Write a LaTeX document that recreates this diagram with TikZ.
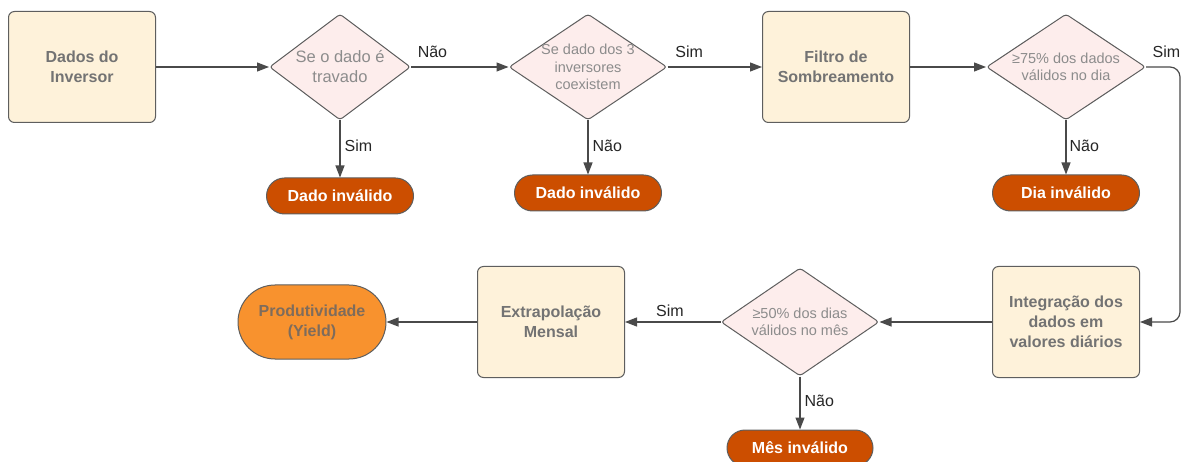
\documentclass[tikz,border=0pt]{standalone}
\usepackage{fontspec}
\setmainfont{Liberation Sans}
\usetikzlibrary{shapes.geometric,arrows.meta}
\definecolor{cream}{HTML}{FEF2DA}
\definecolor{pinkf}{HTML}{FDEDEC}
\definecolor{strokec}{HTML}{5E5E5E}
\definecolor{boxtext}{HTML}{737373}
\definecolor{dtext}{HTML}{8C8C8C}
\definecolor{invalid}{HTML}{CC4E00}
\definecolor{yieldc}{HTML}{F8922E}
\definecolor{prodtext}{HTML}{7E6C5C}
\definecolor{linec}{HTML}{4A4A4A}
\begin{document}
\begin{tikzpicture}[x=1pt,y=-1pt,
  procbox/.style={draw=strokec, line width=1pt, fill=cream, rounded corners=6pt, minimum width=147pt, minimum height=111pt, align=center, text=boxtext, font=\fontsize{16}{20}\selectfont\bfseries, inner sep=0pt},
  decision/.style={diamond, draw=strokec, line width=1pt, fill=pinkf, minimum width=141pt, minimum height=106pt, inner sep=0pt, rounded corners=3pt},
  dtxt/.style={text=dtext, align=center, inner sep=0pt, font=\fontsize{14.5}{17.5}\selectfont},
  dtxtbig/.style={text=dtext, align=center, inner sep=0pt, font=\fontsize{16.5}{20}\selectfont},
  term/.style={draw=strokec, line width=1pt, fill=invalid, rounded corners=18pt, minimum width=147pt, minimum height=36pt, text=white, font=\fontsize{16}{20}\selectfont\bfseries, inner sep=0pt},
  yieldbox/.style={term, fill=yieldc, minimum height=74pt, minimum width=148pt, rounded corners=37pt, text=prodtext, align=center},
  conn/.style={draw=linec, line width=1.2pt, -{Triangle[length=12pt,width=9pt]}},
  lbl/.style={text=black!85, inner sep=0pt, font=\fontsize{16}{20}\selectfont}
]
\useasboundingbox[fill=white] (0,0) rectangle (1186,462);

% top row
\node[procbox] (b1) at (82,67) {Dados do\\Inversor};
\node[decision, minimum width=141pt, label={[dtxtbig]center:{Se o dado é\\travado}}] (d1) at (340,67) {};
\node[decision, minimum width=158pt, label={[dtxt]center:{Se dado dos 3\\inversores\\coexistem}}] (d2) at (588,67) {};
\node[procbox] (filt) at (836,67) {Filtro de\\Sombreamento};
\node[decision, minimum width=159pt, label={[dtxt]center:{≥75\% dos dados\\válidos no dia}}] (d3) at (1066,67) {};

\node[term] (inv1) at (340,196) {Dado inválido};
\node[term] (inv2) at (588,193) {Dado inválido};
\node[term] (inv3) at (1066,193) {Dia inválido};

% bottom row
\node[procbox] (integ) at (1066,322) {Integração dos\\dados em\\valores diários};
\node[decision, minimum width=158pt, minimum height=108pt, label={[dtxt]center:{≥50\% dos dias\\válidos no mês}}] (d4) at (800,322) {};
\node[procbox] (extra) at (551,322) {Extrapolação\\Mensal};
\node[yieldbox] (prod) at (312,322) {Produtividade\\(Yield)};
\node[term, minimum width=146pt] (mes) at (800,448) {Mês inválido};

% connectors
\draw[conn] (b1.east) -- (d1.west);
\draw[conn] (d1.east) -- node[lbl, pos=0.22, above=9pt] (l1) {Não} (d2.west);
\draw[conn] (d2.east) -- node[lbl, pos=0.23, above=9pt] (l2) {Sim} (filt.west);
\draw[conn] (filt.east) -- (d3.west);
\draw[conn, rounded corners=10pt] (d3.east) -- node[lbl, pos=0.6, above=9pt] (l3) {Sim} ++(34,0) |- (integ.east);

\draw[conn] (d1.south) -- node[lbl, pos=0.45, right=4pt] (l4) {Sim} (inv1.north);
\draw[conn] (d2.south) -- node[lbl, pos=0.47, right=4pt] (l5) {Não} (inv2.north);
\draw[conn] (d3.south) -- node[lbl, pos=0.47, right=3pt] (l6) {Não} (inv3.north);

\draw[conn] (integ.west) -- (d4.east);
\draw[conn] (d4.west) -- node[lbl, pos=0.53, above=5pt] (l7) {Sim} (extra.east);
\draw[conn] (extra.west) -- (prod.east);
\draw[conn] (d4.south) -- node[lbl, pos=0.46, right=4pt] (l8) {Não} (mes.north);
\end{tikzpicture}
\end{document}
